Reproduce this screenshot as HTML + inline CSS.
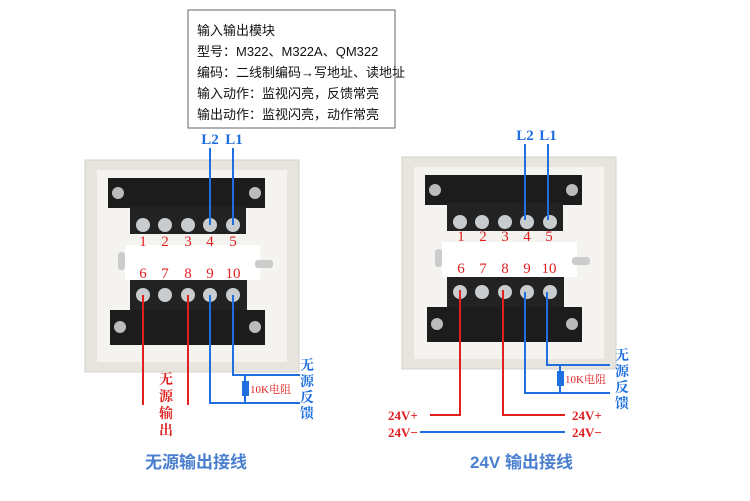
<!DOCTYPE html>
<html><head><meta charset="utf-8"><style>
body{margin:0;background:#fff;width:750px;height:501px;overflow:hidden}
svg{display:block}
text{font-family:"Liberation Serif","Noto Serif CJK SC",serif}
.t{font-family:"Liberation Sans","Noto Sans CJK SC",sans-serif;font-size:13px;fill:#111}
.r{fill:#e02020;font-size:15px}
.b{fill:#1f6fe0}
</style></head><body>
<svg width="750" height="501" viewBox="0 0 750 501">
<defs>
<g id="box">
 <rect x="0" y="0" width="214" height="212" fill="#e8e5df" stroke="#d4d0ca"/>
 <rect x="12" y="10" width="190" height="192" fill="#f4f3f0"/>
 <rect x="40" y="85" width="135" height="35" fill="#fff"/>
 <rect x="33" y="92" width="7" height="18" rx="3" fill="#ccc"/>
 <rect x="170" y="100" width="18" height="8" rx="3" fill="#ccc"/>
 <rect x="23" y="18" width="157" height="30" fill="#1c1c1c"/>
 <rect x="45" y="46" width="116" height="28" fill="#222"/>
 <circle cx="33" cy="33" r="6" fill="#bbb"/><circle cx="170" cy="33" r="6" fill="#bbb"/>
 <g fill="#c9ccce"><circle cx="58" cy="65" r="7"/><circle cx="80" cy="65" r="7"/><circle cx="103" cy="65" r="7"/><circle cx="125" cy="65" r="7"/><circle cx="148" cy="65" r="7"/></g>
 <rect x="45" y="120" width="117" height="32" fill="#222"/>
 <rect x="25" y="150" width="155" height="35" fill="#1c1c1c"/>
 <circle cx="35" cy="167" r="6" fill="#bbb"/><circle cx="170" cy="167" r="6" fill="#bbb"/>
 <g fill="#c9ccce"><circle cx="58" cy="135" r="7"/><circle cx="80" cy="135" r="7"/><circle cx="103" cy="135" r="7"/><circle cx="125" cy="135" r="7"/><circle cx="148" cy="135" r="7"/></g>
</g>
</defs>
<rect x="188" y="10" width="207" height="118" fill="#fff" stroke="#666"/>
<text class="t" x="197" y="35">输入输出模块</text>
<text class="t" x="197" y="56">型号：M322、M322A、QM322</text>
<text class="t" x="197" y="77">编码：二线制编码→写地址、读地址</text>
<text class="t" x="197" y="98">输入动作：监视闪亮，反馈常亮</text>
<text class="t" x="197" y="119">输出动作：监视闪亮，动作常亮</text>

<use href="#box" x="85" y="160"/>
<use href="#box" x="402" y="157"/>

<g class="r" text-anchor="middle">
<text x="143" y="246">1</text><text x="165" y="246">2</text><text x="188" y="246">3</text><text x="210" y="246">4</text><text x="233" y="246">5</text>
<text x="143" y="278">6</text><text x="165" y="278">7</text><text x="188" y="278">8</text><text x="210" y="278">9</text><text x="233" y="278">10</text>
<text x="461" y="241">1</text><text x="483" y="241">2</text><text x="505" y="241">3</text><text x="527" y="241">4</text><text x="549" y="241">5</text>
<text x="461" y="273">6</text><text x="483" y="273">7</text><text x="505" y="273">8</text><text x="527" y="273">9</text><text x="549" y="273">10</text>
</g>
<g class="b" font-size="15" font-weight="bold" text-anchor="middle">
<text x="210" y="144">L2</text><text x="234" y="144">L1</text>
<text x="525" y="140">L2</text><text x="548" y="140">L1</text>
</g>
<g stroke="#1f6fe0" stroke-width="2" fill="none">
<path d="M210 148V225M233 148V225M525 144V220M548 144V220"/>
<path d="M210 295V403H300M233 295V375H300M245 375V403"/>
<path d="M525 292V393H610M547 292V365H610M560 365V393M420 432H565"/>
</g>
<rect x="242" y="381" width="7" height="15" fill="#1f6fe0"/>
<rect x="557" y="371" width="7" height="15" fill="#1f6fe0"/>
<g stroke="#e02020" stroke-width="2" fill="none">
<path d="M143 295V405M188 295V405"/>
<path d="M460 290V415H430M503 290V415H565"/>
</g>
<g fill="#e02020" font-size="11"><text x="250" y="393">10K电阻</text><text x="565" y="383">10K电阻</text></g>
<g class="b" font-size="14" font-weight="bold" text-anchor="middle">
<text x="307" y="370">无</text><text x="307" y="386">源</text><text x="307" y="402">反</text><text x="307" y="418">馈</text>
<text x="622" y="360">无</text><text x="622" y="376">源</text><text x="622" y="392">反</text><text x="622" y="408">馈</text>
</g>
<g fill="#e02020" font-size="14" font-weight="bold" text-anchor="middle">
<text x="166" y="384">无</text><text x="166" y="401">源</text><text x="166" y="418">输</text><text x="166" y="435">出</text>
</g>
<g fill="#e02020" font-size="13" font-weight="bold">
<text x="388" y="420">24V+</text><text x="572" y="420">24V+</text>
<text x="388" y="437">24V−</text><text x="572" y="437">24V−</text>
</g>
<g fill="#4a7fd0" font-size="17" font-weight="bold">
<text x="145" y="468" style="font-family:'Liberation Sans','Noto Sans CJK SC',sans-serif">无源输出接线</text>
<text x="470" y="468" style="font-family:'Liberation Sans','Noto Sans CJK SC',sans-serif">24V 输出接线</text>
</g>
</svg>
</body></html>
